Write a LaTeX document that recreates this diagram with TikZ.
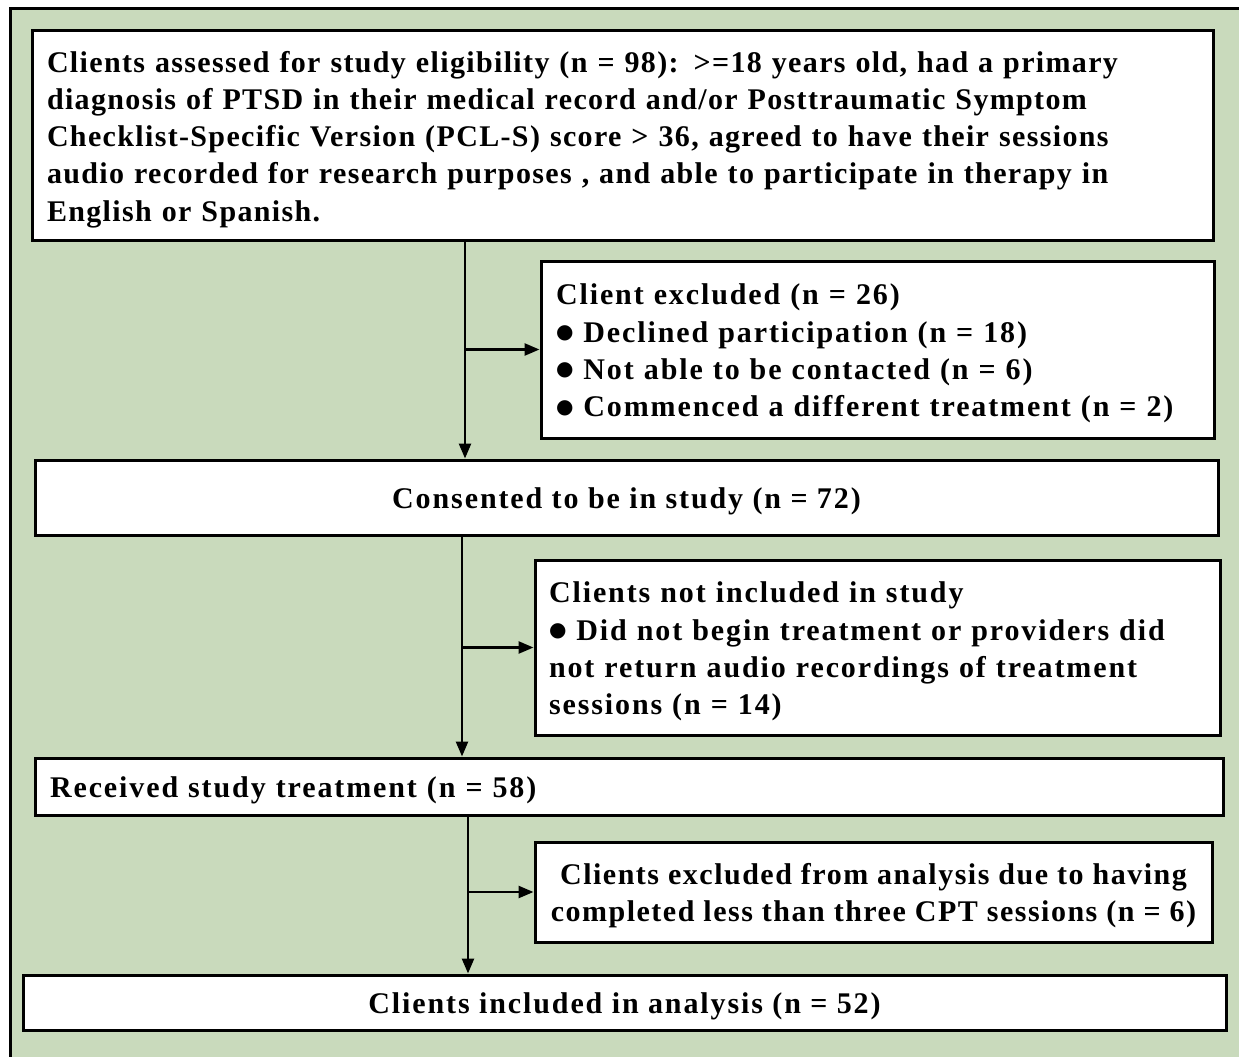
\documentclass[tikz,border=0pt]{standalone}
\usepackage{fontspec}
\usepackage{graphicx}
\setmainfont{Liberation Serif}[LetterSpace=4.5]
\newfontfamily\widefont{Liberation Serif}[LetterSpace=6.3]
\newfontfamily\midfont{Liberation Serif}[LetterSpace=5]
\newfontfamily\bulfont{DejaVu Sans}
\usetikzlibrary{arrows.meta}
\definecolor{sage}{RGB}{201,218,188}
\newcommand\dn{\rule{0pt}{29pt}}
\newcommand\bul{\raisebox{3.5pt}{\bulfont\fontsize{20}{20}\selectfont ●}}
\begin{document}
\begin{tikzpicture}[x=1pt,y=-1pt,
  box/.style={draw=black, line width=3pt, fill=white, inner xsep=15pt, inner ysep=0pt,
    font=\widefont\bfseries\fontsize{30}{37.3}\selectfont},
  arr/.style={line width=2.5pt, -{Triangle[length=15pt,width=12pt]}}]
\useasboundingbox (0,0) rectangle (1239,1057);
\fill[sage] (10,9) rectangle (1239,1057);
\draw[line width=3pt] (10,1057) -- (10,9) -- (1239,9);

\node[box, font=\rmfamily\bfseries\fontsize{30}{37.3}\selectfont, minimum width=1181pt, minimum height=209pt, text width=1151pt, align=left] (b1) at (622.5,135.5)
 {\dn Clients assessed for study eligibility (n = 98): >=18 years old, had a primary\\
  diagnosis of PTSD in their medical record and/or Posttraumatic Symptom\\
  Checklist-Specific Version (PCL-S) score > 36, agreed to have their sessions\\
  audio recorded for research purposes , and able to participate in therapy in\\
  English or Spanish.};
\node[box, minimum width=673pt, minimum height=177pt, text width=643pt, align=left] (b2) at (877.5,349.5)
 {\dn Client excluded (n = 26)\\
  \bul\ Declined participation (n = 18)\\
  \bul\ Not able to be contacted (n = 6)\\
  \bul\ Commenced a different treatment (n = 2)};
\node[box, minimum width=1183pt, minimum height=75pt] (b3) at (626.5,497.5)
 {\dn Consented to be in study (n = 72)};
\node[box, minimum width=685pt, minimum height=175pt, text width=657pt, inner xsep=14pt, align=left] (b4) at (877.5,647.5)
 {\dn Clients not included in study\\
  \bul\ Did not begin treatment or providers did\\
  not return audio recordings of treatment\\
  sessions (n = 14)};
\node[box, minimum width=1188pt, minimum height=57pt, text width=1158pt, align=left] (b5) at (629,786.5)
 {\dn Received study treatment (n = 58)};
\node[box, font=\midfont\bfseries\fontsize{30}{37.3}\selectfont, inner xsep=6pt, minimum width=677pt, minimum height=100pt, align=center] (b6) at (873.5,892)
 {\dn Clients excluded from analysis due to having\\
  completed less than three CPT sessions (n = 6)};
\node[box, minimum width=1203pt, minimum height=55pt] (b7) at (624.5,1002.5)
 {\dn Clients included in analysis (n = 52)};

\coordinate (c1) at (465,0);
\coordinate (c2) at (462,0);
\coordinate (c3) at (468,0);
\draw[arr] (b1.south -| c1) -- (b3.north -| c1);
\draw[arr] (c1 |- b2.west) -- (b2.west);
\draw[arr] (b3.south -| c2) -- (b5.north -| c2);
\draw[arr] (c2 |- b4.west) -- (b4.west);
\draw[arr] (b5.south -| c3) -- (b7.north -| c3);
\draw[arr] (c3 |- b6.west) -- (b6.west);
\end{tikzpicture}
\end{document}
